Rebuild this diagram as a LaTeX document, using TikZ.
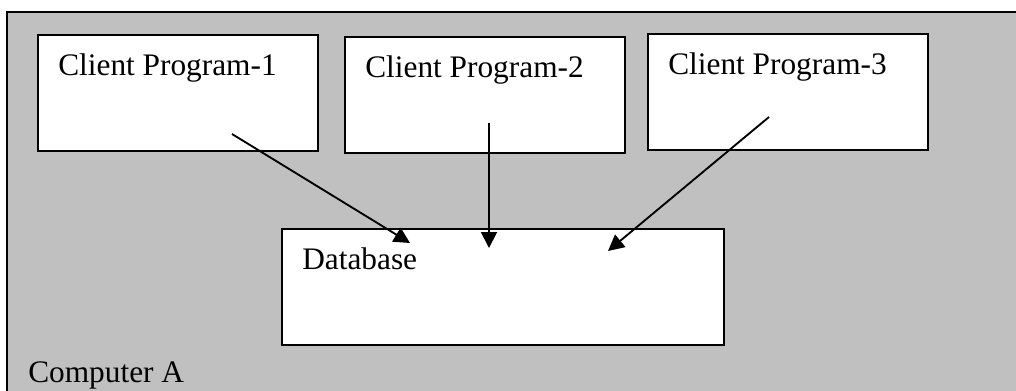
\documentclass[tikz,border=0pt]{standalone}
\usepackage{fontspec}
\setmainfont{Liberation Serif}
\usetikzlibrary{arrows.meta}

\definecolor{panelgray}{RGB}{192,192,192}

\tikzset{
  progbox/.style={draw, fill=white, line width=1.2pt, inner sep=0pt, anchor=north west,
                  minimum width=#1, minimum height=87pt},
  progbox/.default=210pt,
  boxtext/.style={anchor=base west, inner sep=0pt, font=\fontsize{23.5}{28}\selectfont},
  flow/.style={line width=1.4pt, -{Triangle[length=12pt,width=12pt]}}
}

\begin{document}
\begin{tikzpicture}[x=0.75pt,y=-0.75pt]
  \useasboundingbox (0,0) rectangle (1016,390);
  \clip (0,0) rectangle (1016,390);
  % the machine
  \draw[fill=panelgray, line width=1.2pt] (7,12) rectangle (1030,400);
  \node[boxtext] (host) at (28,382) {Computer A};

  % programs and the database
  \node[progbox] (cp1) at (37,34) {};
  \node[progbox] (cp2) at (344,36) {};
  \node[progbox] (cp3) at (647,33) {};
  \node[progbox=331.5pt] (db) at (281,228) {};

  \node[boxtext] (cp1l) at ([xshift=15.75pt,yshift=-30.75pt]cp1.north west) {Client Program-1};
  \node[boxtext] (cp2l) at ([xshift=15.75pt,yshift=-30.75pt]cp2.north west) {Client Program-2};
  \node[boxtext] (cp3l) at ([xshift=15.75pt,yshift=-30.75pt]cp3.north west) {Client Program-3};
  \node[boxtext] (dbl) at ([xshift=15.75pt,yshift=-30.75pt]db.north west) {Database};

  \coordinate (t1) at (232,134);
  \coordinate (t2) at (489,123);
  \coordinate (t3) at (769,117);
  \coordinate (h1) at (410,243);
  \coordinate (h2) at (489,248);
  \coordinate (h3) at (608,251);

  \draw[flow] (t1) -- (h1);
  \draw[flow] (t2) -- (h2);
  \draw[flow] (t3) -- (h3);
\end{tikzpicture}
\end{document}
